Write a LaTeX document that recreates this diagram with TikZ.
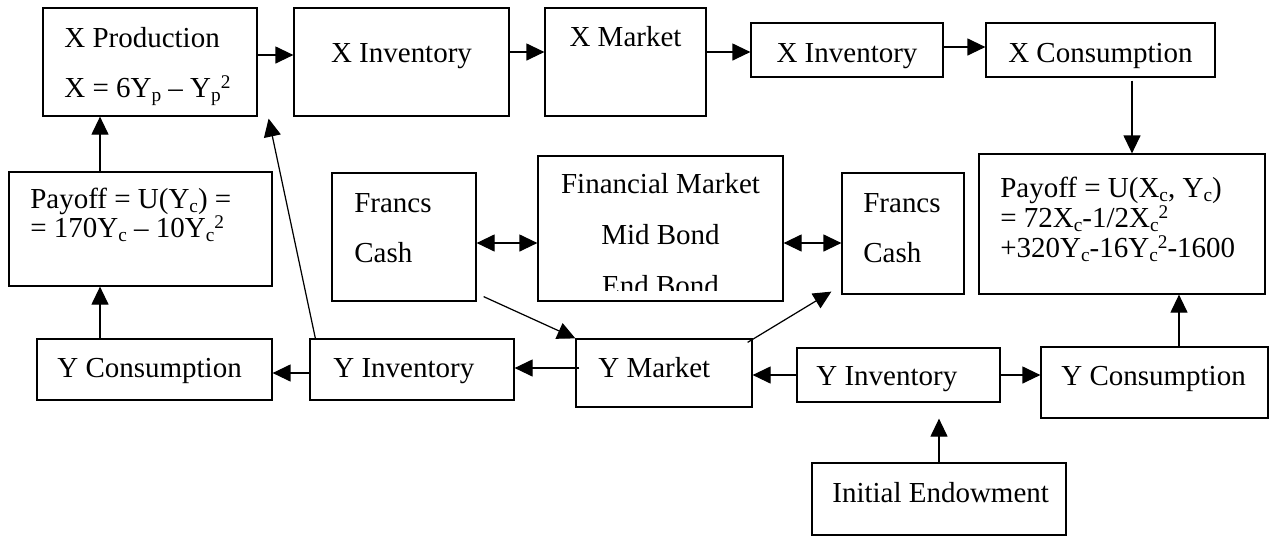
\documentclass[tikz,border=0pt]{standalone}
\usepackage{fontspec}
\setmainfont{Liberation Serif}
\usetikzlibrary{arrows.meta, fit}
\newcommand\lo[1]{\raisebox{-2.3pt}{\fontsize{11}{11}\selectfont #1}}
\newcommand\hi[1]{\raisebox{5pt}{\fontsize{11}{11}\selectfont #1}}

\begin{document}
\begin{tikzpicture}[
        x=0.02cm, y=-0.02cm,
        blk/.style={rectangle, draw=black, line width=0.7pt, inner sep=0pt},
        txt/.style={anchor=base west, inner sep=0pt, font=\fontsize{16.5}{20}\selectfont},
        ctxt/.style={txt, anchor=base},
        arr/.style={-{Triangle[length=3.6mm, width=3.4mm]}, line width=0.7pt},
        dbl/.style={{Triangle[length=3.6mm, width=3.4mm]}-{Triangle[length=3.6mm, width=3.4mm]}, line width=0.7pt}
    ]
        \useasboundingbox (0,0) rectangle (1275,535);
        % boxes
        \node[blk, fit={(43,8) (257,116)}] (xprod) {};
        \node[blk, fit={(294,8) (509,116)}] (xinvA) {};
        \node[blk, fit={(545,8) (706,116)}] (xmkt) {};
        \node[blk, fit={(751,23) (943,77)}] (xinvB) {};
        \node[blk, fit={(986,23) (1215,77)}] (xcons) {};
        \node[blk, fit={(9,172) (272,286)}] (payL) {};
        \node[blk, fit={(332,173) (476,301)}] (frL) {};
        \node[blk, fit={(538,156) (783,301)}] (finm) {};
        \node[blk, fit={(842,173) (964,294)}] (frR) {};
        \node[blk, fit={(979,154) (1265,294)}] (payR) {};
        \node[blk, fit={(37,339) (272,400)}] (ycL) {};
        \node[blk, fit={(310,339) (514,400)}] (yinvM) {};
        \node[blk, fit={(576,339) (752,407)}] (ymkt) {};
        \node[blk, fit={(797,348) (1000,402)}] (yinvR) {};
        \node[blk, fit={(1041,347) (1268,418)}] (ycR) {};
        \node[blk, fit={(812,463) (1066,535)}] (init) {};
        % texts
        \node[txt] (xprodA) at (64,47) {X Production};
        \node[txt] (xprodB) at (64,97) {X = 6Y\lo{p} \textendash{} Y\lo{p}\hi{2}};
        \node[ctxt] (xinvAt) at (401.5,62) {X Inventory};
        \node[ctxt] (xmktt) at (625.5,46) {X Market};
        \node[ctxt] (xinvBt) at (847,62) {X Inventory};
        \node[ctxt] (xconst) at (1100.5,62) {X Consumption};
        \node[txt] (payLA) at (30,208) {Payoff = U(Y\lo{c}) =};
        \node[txt] (payLB) at (30,237) {= 170Y\lo{c} \textendash{} 10Y\lo{c}\hi{2}};
        \node[txt] (frLA) at (354,212) {Francs};
        \node[txt] (frLB) at (354,262) {Cash};
        \node[ctxt] (finmA) at (660.5,193) {Financial Market};
        \node[ctxt] (finmB) at (660.5,244) {Mid Bond};
        \begin{scope}
            \clip (538,156) rectangle (783,290);
            \node[ctxt] (finmC) at (660.5,295) {End Bond};
        \end{scope}
        \node[txt] (frRA) at (863,212) {Francs};
        \node[txt] (frRB) at (863,262) {Cash};
        \node[txt] (payRA) at (1000,197) {Payoff = U(X\lo{c}, Y\lo{c})};
        \node[txt] (payRB) at (1000,227) {= 72X\lo{c}-1/2X\lo{c}\hi{2}};
        \node[txt] (payRC) at (1000,257) {+320Y\lo{c}-16Y\lo{c}\hi{2}-1600};
        \node[txt] (ycLt) at (57,377) {Y Consumption};
        \node[txt] (yinvMt) at (333,377) {Y Inventory};
        \node[txt] (ymktt) at (598,377) {Y Market};
        \node[txt] (yinvRt) at (816,385) {Y Inventory};
        \node[txt] (ycRt) at (1061,385) {Y Consumption};
        \node[txt] (initt) at (832,502) {Initial Endowment};
        % connectors
        \draw[arr] ([yshift=1.4mm]xprod.east) -- ([yshift=1.4mm]xinvA.west);
        \draw[arr] ([yshift=2mm]xinvA.east) -- ([yshift=2mm]xmkt.west);
        \draw[arr] ([yshift=2mm]xmkt.east) -- ([yshift=2mm]xmkt.east -| xinvB.west);
        \draw[arr] ([yshift=0.6mm]xinvB.east) -- ([yshift=0.6mm]xcons.west);
        \draw[arr, shorten <=0.6mm] ([xshift=6.3mm]xcons.south) -- ([xshift=6.3mm]xcons.south |- payR.north);
        \draw[arr] ([xshift=-8.1mm]payL.north) -- ([xshift=-8.1mm]payL.north |- xprod.south);
        \draw[arr] ([xshift=-10.9mm]ycL.north) -- ([xshift=-10.9mm]ycL.north |- payL.south);
        \draw[arr] ([xshift=1.2mm]yinvM.north west) -- ([xshift=2.2mm, yshift=-0.4mm]xprod.south east);
        \draw[arr] ([yshift=1mm, xshift=0.8mm]ymkt.west) -- ([yshift=1mm]ymkt.west -| yinvM.east);
        \draw[arr] ([yshift=-0.7mm]yinvM.west) -- ([yshift=-0.7mm]yinvM.west -| ycL.east);
        \draw[arr] (yinvR.west) -- (yinvR.west -| ymkt.east);
        \draw[arr] (yinvR.east) -- (yinvR.east -| ycR.west);
        \draw[arr] ([xshift=4.9mm]ycR.north) -- ([xshift=4.9mm]ycR.north |- payR.south);
        \draw[arr, shorten >=3.2mm] (init.north) -- (init.north |- yinvR.south);
        \draw[dbl] ([yshift=-1.2mm]frL.east) -- ([yshift=-1.2mm]frL.east -| finm.west);
        \draw[dbl] ([yshift=-2.9mm]finm.east) -- ([yshift=-2.9mm]finm.east -| frR.west);
        \draw[arr] ([xshift=1.4mm, yshift=1mm]frL.south east) -- (ymkt.north west);
        \draw[arr] ([xshift=-1mm, yshift=-0.8mm]ymkt.north east) -- ([xshift=-2mm, yshift=0.6mm]frR.south west);
    \end{tikzpicture}
\end{document}
